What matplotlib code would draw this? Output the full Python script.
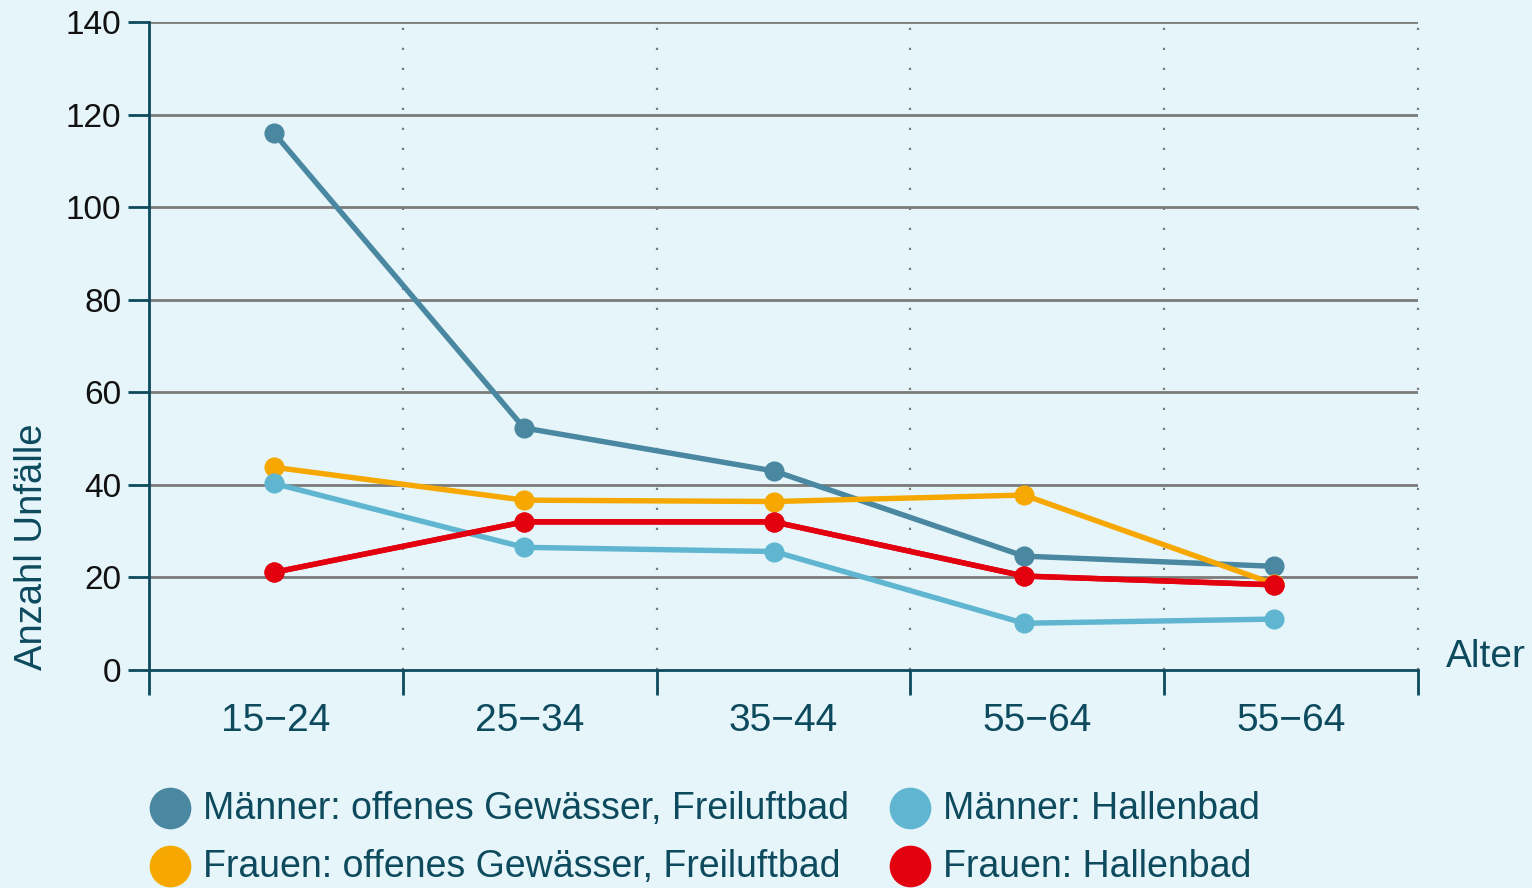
import numpy as np
import matplotlib
matplotlib.use("Agg")
import matplotlib.pyplot as plt
from matplotlib.lines import Line2D

plt.rcParams['font.family'] = ['Liberation Sans', 'DejaVu Sans']

# data
age_groups = ["15\u221224", "25\u221234", "35\u221244", "55\u221264", "55\u221264"]
maenner_offen = [116, 52.3, 43, 24.6, 22.4]
frauen_offen = [43.8, 36.7, 36.4, 37.8, 18.6]
maenner_halle = [40.3, 26.5, 25.6, 10.1, 11]
frauen_halle = [21.1, 32, 32, 20.3, 18.4]

series = [
    ("M\u00e4nner: offenes Gew\u00e4sser, Freiluftbad", maenner_offen, "#4a87a1"),
    ("Frauen: offenes Gew\u00e4sser, Freiluftbad", frauen_offen, "#f6a800"),
    ("M\u00e4nner: Hallenbad", maenner_halle, "#60b6d1"),
    ("Frauen: Hallenbad", frauen_halle, "#e3000f"),
]

bg = "#e6f5f9"
teal = "#0d4a5e"
grid_col = "#7b7b7b"

W, H = 1532, 888
fig = plt.figure(figsize=(W / 100, H / 100), dpi=100, facecolor=bg)
ax = fig.add_axes([149 / W, 1 - 670 / H, 1269 / W, 648 / H])
ax.set_facecolor(bg)

x = np.arange(len(age_groups))
x0, x1 = -0.5, 4.576
ax.set_xlim(x0, x1)
ax.set_ylim(0, 140)

# category boundaries
step = (x1 - x0) / 5
bounds = [x0 + step * k for k in range(6)]
centers = [x0 + step * (k + 0.5) for k in range(5)]

for yv in range(20, 141, 20):
    ax.axhline(yv, color=grid_col, lw=2, zorder=1)
for b in bounds[1:]:
    ax.plot([b, b], [0, 140], color=grid_col, lw=1.6, ls=(0, (1, 8)), zorder=1, clip_on=False)

for label, vals, col in series:
    ax.plot(x, vals, color=col, lw=3.9, marker="o", ms=13.5, zorder=3)
# red sits on top in the original
ax.plot(x, frauen_halle, color="#e3000f", lw=3.9, marker="o", ms=13.5, zorder=4)

for s in ["top", "right"]:
    ax.spines[s].set_visible(False)
for s in ["left", "bottom"]:
    ax.spines[s].set_color(teal)
    ax.spines[s].set_linewidth(2)

ax.set_yticks(range(0, 141, 20))
ax.tick_params(axis="y", length=15, width=2, color=teal, labelsize=24, labelcolor="#111111", pad=5)
ax.set_xticks(centers)
ax.set_xticklabels(age_groups)
ax.tick_params(axis="x", which="major", length=0, labelsize=28, labelcolor=teal, pad=24)
ax.set_xticks(bounds, minor=True)
ax.tick_params(axis="x", which="minor", length=18, width=2, color=teal)

fig.text(32 / W, 1 - 547 / H, "Anzahl Unf\u00e4lle", rotation=90, color=teal,
         fontsize=27.5, ha="center", va="center")
fig.text(1446 / W, 1 - 657 / H, "Alter", color=teal, fontsize=28, ha="left", va="center")

# legend, two columns
leg_pos = [(170, 808), (170, 866), (910, 808), (910, 866)]
for (label, _, col), (px, py) in zip(series, leg_pos):
    fig.add_artist(Line2D([px / W], [1 - py / H], transform=fig.transFigure,
                          marker="o", ms=29, color=col, ls="none"))
    fig.text((px + 33) / W, 1 - (py + 1) / H, label, color=teal, fontsize=27,
             ha="left", va="center")

fig.savefig("out.png", dpi=100, facecolor=bg)
